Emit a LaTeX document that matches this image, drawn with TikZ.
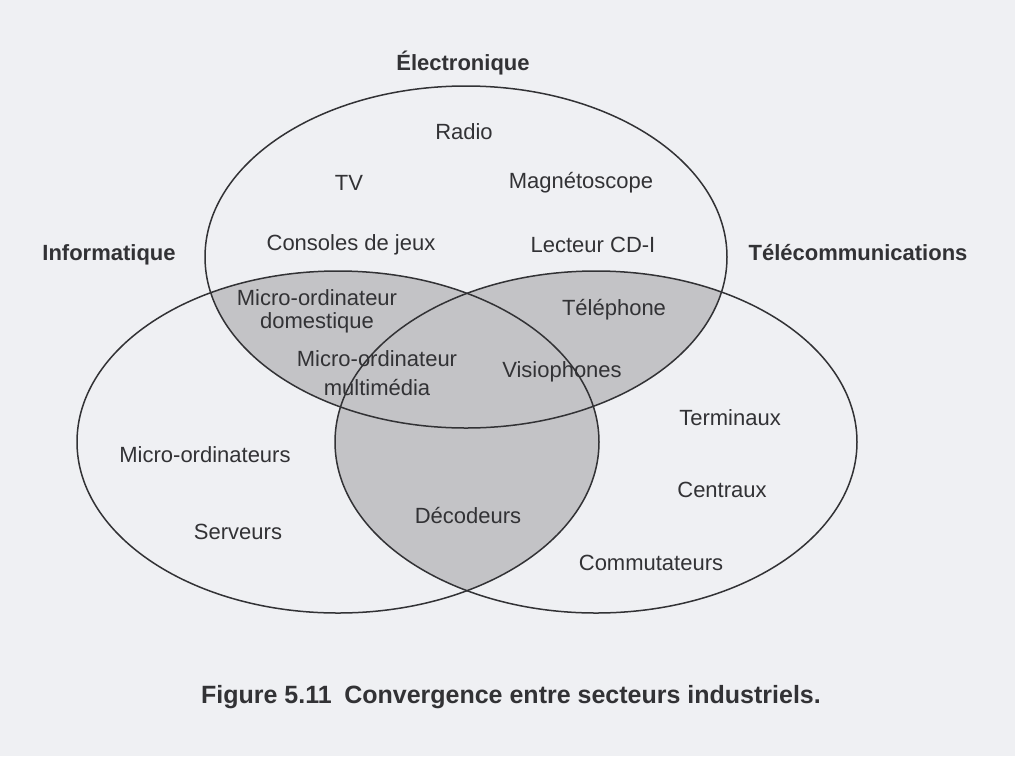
\documentclass[tikz,border=0pt]{standalone}
\usepackage{fontspec}
\setmainfont{Liberation Sans}
\definecolor{bg}{RGB}{239,240,243}
\definecolor{shadegray}{RGB}{195,195,198}
\definecolor{ink}{RGB}{50,50,53}
\begin{document}
\begin{tikzpicture}[x=1pt,y=-1pt,
  lbl/.style={font=\fontsize{22}{23}\selectfont, text=ink, inner sep=0pt, align=center},
  ttl/.style={font=\fontsize{22}{23}\selectfont\bfseries, text=ink, inner sep=0pt},
  captionstyle/.style={font=\fontsize{25}{28}\selectfont\bfseries, text=ink, inner sep=0pt},
  ring/.style={draw=ink, line width=1.5pt}]
\useasboundingbox (0,0) rectangle (1015,756);
\fill[bg] (0,0) rectangle (1015,756);
\coordinate (cE) at (466,257);
\coordinate (cI) at (338,442);
\coordinate (cT) at (596,442);
\def\rx{261pt}\def\ry{171pt}
% shaded pairwise intersections
\begin{scope}
  \clip (cE) ellipse [x radius=\rx, y radius=\ry];
  \fill[shadegray] (cI) ellipse [x radius=\rx, y radius=\ry];
  \fill[shadegray] (cT) ellipse [x radius=\rx, y radius=\ry];
\end{scope}
\begin{scope}
  \clip (cI) ellipse [x radius=\rx, y radius=\ry];
  \fill[shadegray] (cT) ellipse [x radius=\rx, y radius=\ry];
\end{scope}
% outlines
\draw[ring] (cE) ellipse [x radius=\rx, y radius=\ry];
\draw[ring] (cI) ellipse [x radius=\rx, y radius=\ry];
\draw[ring] (cT) ellipse [x radius=\rx, y radius=\ry];
% titles
\node[ttl] (tE) at (463,63) {Électronique};
\node[ttl] (tI) at (109,255) {Informatique};
\node[ttl] (tT) at (858,253) {Télécommunications};
% labels
\node[lbl] (radio) at (464,132) {Radio};
\node[lbl] (tv) at (349,183) {TV};
\node[lbl] (magneto) at (581,183) {Magnétoscope};
\node[lbl] (consoles) at (351,245) {Consoles de jeux};
\node[lbl] (cdi) at (593,245) {Lecteur CD-I};
\node[lbl] (mdom) at (317,311) {Micro-ordinateur\\domestique};
\node[lbl] (tel) at (614,310) {Téléphone};
\node[lbl] (mmul) at (377,373) {Micro-ordinateur\\[6pt]multimédia};
\node[lbl] (visio) at (562,372) {Visiophones};
\node[lbl] (term) at (730,418) {Terminaux};
\node[lbl] (micros) at (205,455) {Micro-ordinateurs};
\node[lbl] (centr) at (722,490) {Centraux};
\node[lbl] (serv) at (238,532) {Serveurs};
\node[lbl] (decod) at (468,515) {Décodeurs};
\node[lbl] (commut) at (651,563) {Commutateurs};
% caption
\node[captionstyle] (caption) at (511,697) {Figure 5.11\hspace{0.5em}Convergence entre secteurs industriels.};
\end{tikzpicture}
\end{document}
